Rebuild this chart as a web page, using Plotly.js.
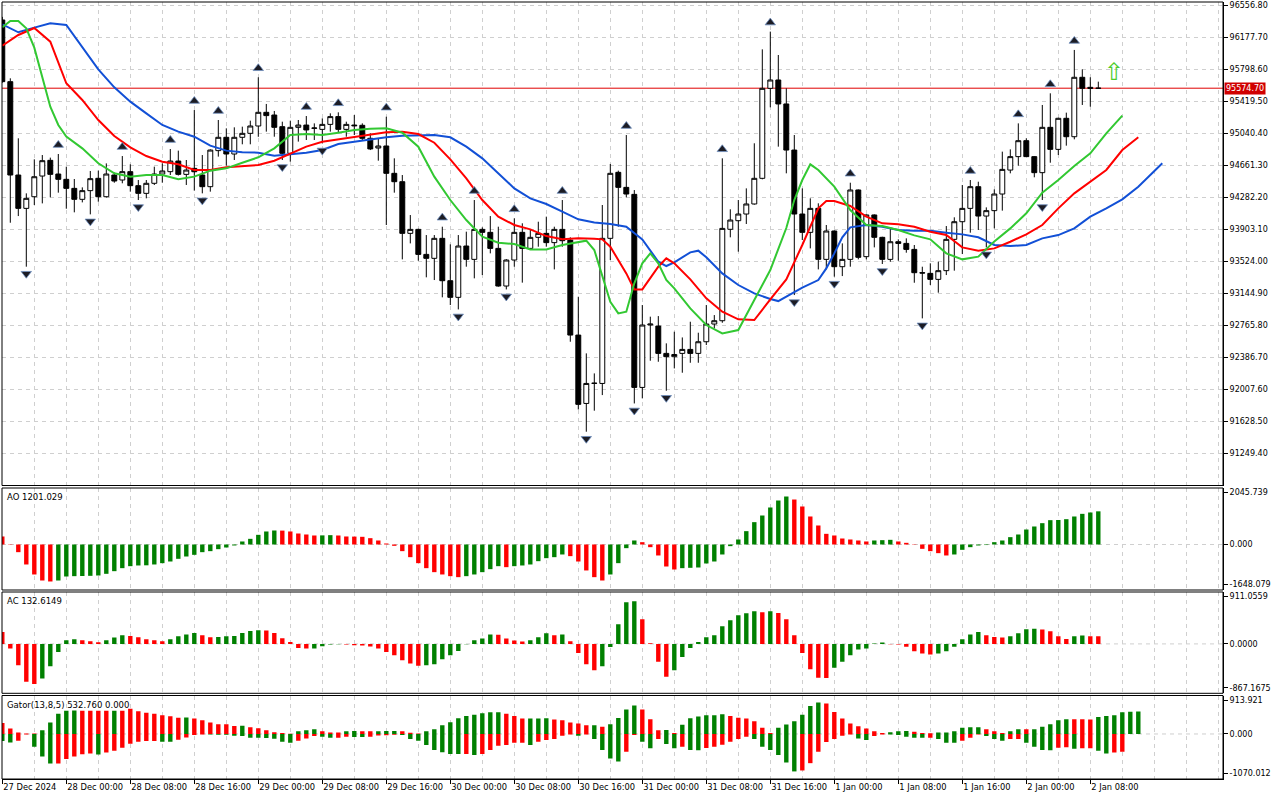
<!DOCTYPE html>
<html>
<head>
<meta charset="utf-8">
<script src="https://cdn.plot.ly/plotly-3.0.1.min.js"></script>
<style>
html,body{margin:0;padding:0;background:#ffffff;}
#chart{width:1280px;height:800px;}
</style>
</head>
<body>
<div id="chart"></div>
<script>
// ---------------- DATA ----------------
const timeLabels = ["27 Dec 2024","28 Dec 00:00","28 Dec 08:00","28 Dec 16:00","29 Dec 00:00","29 Dec 08:00","29 Dec 16:00","30 Dec 00:00","30 Dec 08:00","30 Dec 16:00","31 Dec 00:00","31 Dec 08:00","31 Dec 16:00","1 Jan 00:00","1 Jan 08:00","1 Jan 16:00","2 Jan 00:00","2 Jan 08:00"];
const barsPerLabel = 8;

const priceTicks = [96556.80,96177.70,95798.60,95419.50,95040.40,94661.30,94282.20,93903.10,93524.00,93144.90,92765.80,92386.70,92007.60,91628.50,91249.40];
const currentPrice = 95574.70;

const opens = [96383,95652,94546,94151,94289,94534,94720,94558,94495,94388,
94258,94361,94507,94289,94546,94487,94586,94420,94329,94448,
94558,94586,94712,94554,94625,94546,94408,94835,94993,94795,
94993,95040,95127,95289,95257,95119,94803,95111,95138,95099,
95087,95146,95238,95087,95138,95135,94981,94866,94890,94566,
94467,93855,93902,93606,93559,93796,93294,93097,93705,93547,
93902,93867,93677,93231,93539,93867,93677,93808,93855,93745,
93902,93775,92650,91840,92077,92077,93796,94578,94400,94317,
92030,92769,92757,92433,92394,92433,92480,92433,92571,92781,
92820,93903,94005,94084,94203,94507,95573,95672,95388,94842,
94084,93867,94151,93547,93883,93460,93547,94369,93579,94073,
93808,93547,93756,93736,93665,93389,93381,93310,93413,93784,
93993,94151,94408,94060,94124,94321,94605,94764,94953,94764,
94574,95111,94850,95218,95000,95704,95585,95573];

const highs = [96420,95692,94981,94329,94732,94783,94752,94795,94645,94499,
94400,94594,94598,94684,94574,94771,94673,94487,94487,94645,
94684,94854,94835,94724,95316,94783,94850,95198,95099,95111,
95119,95190,95704,95388,95305,95178,95190,95198,95245,95158,
95217,95277,95289,95178,95257,95158,95040,94981,95237,94744,
94546,94072,93910,93835,93835,93934,93725,93835,93875,94250,
93926,94060,93934,93550,94033,93974,93895,93993,94053,93934,
94250,93808,93104,92433,92196,94191,94677,94598,95020,94368,
93006,92868,92875,92552,92690,92622,92808,92678,93006,92887,
94744,94140,94250,94388,94922,96035,96245,95968,95573,95020,
94388,94270,94211,93954,93890,93736,94455,94375,94080,94080,
93815,93914,93784,93796,93717,93460,93500,93519,93942,94045,
94428,94487,94467,94163,94376,94823,94850,95158,94981,94770,
95376,95514,95225,95285,96028,95798,95704,95652];

const lows = [95640,93981,94060,93460,94191,94210,94282,94337,94147,94104,
94222,94080,94230,94280,94455,94448,94349,94250,94270,94428,
94455,94546,94540,94428,94361,94329,94349,94764,94657,94724,
94910,94910,94999,95060,95000,94724,94704,94942,94961,94961,
94920,95060,95048,95000,95020,94961,94842,94716,93954,94337,
93547,93736,93531,93334,93302,93097,93006,92954,93460,93322,
93361,93618,93223,93191,93460,93271,93658,93697,93697,93428,
93697,92571,91769,91505,91754,91939,93539,93934,94282,91840,
91900,92346,92334,91990,92255,92204,92322,92322,92532,92730,
92796,93808,93638,93966,94195,94495,95348,94882,94566,93124,
93776,93677,93428,93428,93342,93349,93460,93547,93547,93689,
93492,93519,93531,93626,93270,92848,93243,93152,93361,93413,
93610,93863,93895,93689,93914,94124,94566,94657,94760,94519,
94250,94692,94783,94894,94969,95376,95356,95570];

const closes = [95652,94546,94151,94270,94526,94716,94554,94495,94388,94258,
94361,94503,94289,94558,94475,94586,94420,94329,94448,94558,
94594,94712,94554,94605,94585,94408,94842,94993,94795,94993,
95040,95127,95289,95250,95111,94803,95111,95138,95080,95103,
95146,95238,95087,95146,95130,94981,94855,94890,94566,94467,
93855,93902,93606,93559,93796,93294,93097,93705,93547,93902,
93867,93677,93231,93539,93867,93677,93808,93855,93745,93902,
93768,92650,91829,92077,92080,93796,94566,94400,94321,92030,
92769,92780,92433,92394,92420,92480,92433,92571,92781,92820,
93914,94013,94084,94203,94507,95573,95672,95388,94842,94084,
93867,94151,93547,93883,93460,93547,94369,93571,94073,93808,
93547,93756,93736,93665,93389,93385,93310,93413,93784,93993,
94151,94408,94060,94124,94321,94613,94764,94953,94764,94574,
95111,94850,95218,95000,95704,95573,95573,95574.7];

// Alligator (already shifted forward as drawn): bar index -> value
const jawIdx = [0,2,4,6,8,10,12,14,16,18,20,22,24,26,28,30,32,34,36,38,40,42,44,46,48,50,52,54,56,58,60,62,64,66,68,70,72,74,76,78,80,82,83,84,86,87,88,90,92,94,96,97,98,100,102,103,104,105,106,108,110,112,114,116,118,120,122,124,126,128,130,132,134,136,138,140,142,144,145];
const jawVal = [96332,96237,96292,96344,96324,96067,95798,95585,95415,95277,
95139,95060,95000,94894,94835,94815,94811,94775,94791,94811,
94843,94914,94941,94969,94993,95012,95020,95020,94993,94882,
94744,94566,94388,94270,94203,94112,94021,93985,93966,93934,
93784,
93519,93468,93511,93630,93650,93571,93381,93243,93144,93077,93053,93104,93211,93302,93440,93618,93808,93926,
93954,93934,93895,93887,93887,93863,93843,93808,93717,93705,93717,93796,93835,93914,94053,94151,94258,94408,94598,
94685];

const teethIdx = [0,2,4,6,8,10,12,14,16,18,20,22,24,26,28,30,32,34,36,38,40,42,44,46,48,50,52,54,56,58,60,62,64,66,68,70,72,74,75,76,78,79,80,82,83,84,86,88,90,92,94,96,98,100,102,103,104,106,108,110,112,114,116,118,120,122,124,126,128,130,132,134,136,138,140,142];
const teethVal = [96079,96205,96288,96126,95633,95435,95198,95008,94874,94771,
94704,94673,94606,94606,94637,94653,94665,94716,94803,94882,
94941,94969,95000,95032,95052,95060,95032,94929,94732,94507,
94250,94053,93954,93902,93823,93784,93796,93792,93784,93697,
93381,93191,93191,93460,93559,93500,93310,93085,92927,92836,
92828,93073,93310,93717,94151,94238,94238,94179,94053,93974,
93962,93934,93875,93835,93689,93650,93677,93756,93843,93954,
94151,94329,94467,94606,94842,94993];

const lipsIdx = [0,1,2,3,4,5,6,7,8,10,12,14,16,18,20,22,24,26,28,30,32,34,36,38,40,42,44,46,48,50,52,54,56,58,60,62,64,66,68,70,72,73,74,75,76,77,78,79,80,81,82,83,84,86,88,90,92,94,96,98,99,100,101,102,104,106,108,110,112,114,116,118,120,122,124,126,128,130,132,134,136,138,140];
const lipsVal = [96296,96371,96371,96284,96055,95712,95356,95139,95001,94862,
94685,94566,94527,94546,94546,94495,94527,94598,94625,94692,
94756,94862,95020,95032,95020,95048,95080,95095,95099,95048,
94882,94527,94250,94013,93816,93744,93729,93665,93665,93717,
93756,93768,93658,93342,93045,92907,92927,93263,93500,93618,
93500,93302,93203,92966,92769,92670,92710,93065,93421,93918,
94250,94487,94673,94606,94408,94132,93954,93942,93895,93831,
93784,93618,93547,93579,93760,93914,94092,94337,94487,94653,
94803,95040,95249];

// Bill Williams fractals (bar indices)
const fractalUp = [7,15,21,24,27,32,38,42,48,55,59,64,70,78,90,96,106,121,127,131,134];
const fractalDown = [3,11,17,25,35,40,57,63,73,79,83,99,104,110,115,123,130];

// signal arrow
const signalIdx = 139;
const signalPrice = 95767;

// Awesome Oscillator
const aoVals = [290,-12,-278,-724,-1086,-1304,-1340,-1304,-1159,-1147,
-1141,-1135,-1123,-1062,-966,-857,-785,-760,-754,-724,
-676,-616,-519,-435,-374,-278,-241,-169,-109,-36,
109,205,350,471,507,503,471,398,362,326,
330,338,326,290,286,278,229,145,36,-48,
-241,-459,-676,-857,-1002,-1086,-1147,-1183,-1147,-1086,
-1002,-893,-785,-821,-785,-760,-724,-604,-495,-459,
-362,-422,-616,-941,-1183,-1304,-1086,-676,-133,145,
84,-97,-398,-797,-905,-857,-845,-833,-688,-616,
-362,-60,181,483,809,1050,1340,1593,1738,1629,
1376,1014,688,386,326,217,181,145,109,145,
157,169,109,60,-12,-157,-241,-314,-398,-362,
-193,-97,-36,-20,84,145,266,362,543,652,
772,881,887,917,1014,1110,1159,1201.029];
const aoScale = [-1648.079, 2045.739];

// Accelerator Oscillator
const acVals = [210,-82,-373,-665,-706,-607,-391,-140,64,82,
64,47,29,64,111,152,140,117,82,64,
47,82,134,163,193,152,117,123,134,140,
193,228,239,237,193,99,35,-70,-82,-80,
-41,-12,-6,-12,-23,-29,-47,-82,-140,-198,
-286,-344,-385,-373,-356,-268,-198,-123,-6,64,
93,163,160,93,58,41,64,117,187,152,
166,47,-158,-356,-461,-391,-53,344,729,747,
432,12,-315,-578,-461,-228,-70,35,117,152,
309,414,502,537,572,554,575,543,432,152,
-158,-443,-595,-597,-420,-315,-198,-99,-82,6,
23,-6,-12,-52,-128,-169,-187,-169,-128,-52,
82,163,210,152,122,111,134,187,257,268,
251,222,134,87,134,146,134,132.6149];
const acScale = [-867.1675, 911.0559];

// Gator oscillator: upper histogram (|jaw-teeth|) and lower histogram (|teeth-lips|, drawn downward)
const gatorUpper = [263,129,35,12,10,90,271,482,553,555,
553,552,551,550,553,552,600,537,506,482,
443,420,388,390,365,326,271,231,229,192,
195,161,137,90,43,20,5,67,90,114,
67,35,34,67,68,66,65,67,68,69,
67,27,12,67,114,208,278,373,428,459,
490,514,515,482,428,365,368,370,373,341,
326,271,247,208,210,169,231,382,584,679,
584,349,90,92,20,216,373,412,443,445,
467,428,388,365,302,145,20,145,224,302,
459,663,749,726,522,365,247,184,129,67,
20,43,67,68,51,20,19,35,36,67,
145,161,162,114,67,20,67,114,113,115,
169,231,326,349,348,347,346,404,428,443,
514,530,532.76];
const gatorLower = [169,200,161,12,302,537,702,702,592,537,
482,467,490,443,396,326,231,184,169,169,
184,184,137,82,27,12,14,16,20,43,
50,90,92,94,114,184,208,161,106,51,
67,90,88,67,70,72,67,35,33,20,
22,122,161,263,380,435,475,478,475,498,
475,380,278,263,208,206,263,184,145,122,
43,12,43,12,122,380,584,655,420,27,
184,341,122,239,341,302,380,385,333,302,
255,184,122,67,122,302,380,498,679,890,
867,694,420,192,122,43,12,106,145,51,
12,14,27,67,90,92,88,122,208,210,
161,90,12,51,122,161,122,120,208,302,
380,385,326,318,349,341,340,396,467,443,
420];
// g = growing bar (green), r = shrinking bar (red), as shown in the picture
const gatorUpperState = ["rrrrr","ggggg","rrrr","g","rrrrrrrr","g","rrrrrr","g","rrrrrr","ggg","rrr","gg","rr","ggg","rrr","gggggggggg","rrr","ggg","rrrrr","g","r","gggg","rrr","g","r","gggggg","rrrrrr","gggggg","rrrrrrrr","ggg","rrr","gggggg","rrr","gg","r","ggggg","rrr","gggggg"].join("");
const gatorLowerState = ["gg","rr","ggg","rrrrr","g","rrrrrrr","gg","rrrr","ggggggggggg","rrr","gg","rr","gg","rrrr","gggggggg","r","g","rrrrrr","g","rrrrr","g","r","gggg","rr","gg","r","gg","r","gg","rrrrrr","gggggg","rrrrrrr","gg","rr","ggggg","r","ggg","rrr","ggg","rr","gggg","rr","g","rr","gg","rr"].join("");
const gatorScale = [-1070.012, 913.921];

// ---------------- LAYOUT GEOMETRY (pixels) ----------------
const PX = {left:2, right:1223, top:2, bottom:779,
  mainBot:485.5, aoTop:488, aoBot:590, acTop:592, acBot:693.3, gTop:695.5};
const barPitch = 8, firstBarPx = 2.3;
const frac = y => (PX.bottom - y) / (PX.bottom - PX.top);
const pxToIdx = px => (px - firstBarPx) / barPitch;

const mainRange = [90867.9, 96595.9];
const pricePerPx = (mainRange[1]-mainRange[0]) / (PX.mainBot - PX.top);

const GREEN = '#008000', RED = '#ff0000';
const GRID = '#cfcfcf';
const FONT = 'DejaVu Sans, Verdana, sans-serif';

const idx = opens.map((_, i) => i);
const dirColors = vals => vals.map((v, i) => (i > 0 && v > vals[i-1]) ? GREEN : RED);
const stateColors = s => s.split('').map(c => c === 'g' ? GREEN : RED);

const traces = [];
traces.push({
  type:'candlestick', x: idx, open: opens, high: highs, low: lows, close: closes,
  xaxis:'x', yaxis:'y', whiskerwidth:0,
  increasing:{line:{color:'#000000', width:1}, fillcolor:'#ffffff'},
  decreasing:{line:{color:'#000000', width:1}, fillcolor:'#000000'},
  hoverinfo:'skip', showlegend:false
});
traces.push({type:'scatter', mode:'lines', x: jawIdx, y: jawVal, xaxis:'x', yaxis:'y', line:{color:'#1250d6', width:2}, hoverinfo:'skip'});
traces.push({type:'scatter', mode:'lines', x: teethIdx, y: teethVal, xaxis:'x', yaxis:'y', line:{color:'#ff0000', width:2}, hoverinfo:'skip'});
traces.push({type:'scatter', mode:'lines', x: lipsIdx, y: lipsVal, xaxis:'x', yaxis:'y', line:{color:'#32c832', width:2}, hoverinfo:'skip'});
traces.push({type:'scatter', mode:'markers', x: fractalUp, y: fractalUp.map(i => highs[i] + 9*pricePerPx),
  xaxis:'x', yaxis:'y', marker:{symbol:'triangle-up', size:9, color:'#1c1c24', line:{color:'#6f8fc0', width:0.8}}, hoverinfo:'skip'});
traces.push({type:'scatter', mode:'markers', x: fractalDown, y: fractalDown.map(i => lows[i] - 7*pricePerPx),
  xaxis:'x', yaxis:'y', marker:{symbol:'triangle-down', size:9, color:'#1c1c24', line:{color:'#6f8fc0', width:0.8}}, hoverinfo:'skip'});

traces.push({type:'bar', x: idx, y: aoVals, xaxis:'x', yaxis:'y2', width:0.55, marker:{color: dirColors(aoVals), line:{width:0}}, hoverinfo:'skip'});
traces.push({type:'bar', x: idx, y: acVals, xaxis:'x', yaxis:'y3', width:0.55, marker:{color: dirColors(acVals), line:{width:0}}, hoverinfo:'skip'});
traces.push({type:'bar', x: gatorUpper.map((_, i) => i), y: gatorUpper, xaxis:'x', yaxis:'y4', width:0.55, marker:{color: stateColors(gatorUpperState), line:{width:0}}, hoverinfo:'skip'});
traces.push({type:'bar', x: gatorLower.map((_, i) => i), y: gatorLower.map(v => -v), xaxis:'x', yaxis:'y4', width:0.55, marker:{color: stateColors(gatorLowerState), line:{width:0}}, hoverinfo:'skip'});

function subTicks(scale, topPx, botPx, decimals) {
  const per = (scale[1]-scale[0]) / (botPx - topPx);
  return {
    vals: [scale[1] - 4.5*per, 0, scale[0] + 5.5*per],
    text: [scale[1].toFixed(decimals), (0).toFixed(decimals), scale[0].toFixed(decimals)]
  };
}
const aoT = subTicks(aoScale, PX.aoTop, PX.aoBot, 3);
const acT = subTicks(acScale, PX.acTop, PX.acBot, 4);
const gT = subTicks(gatorScale, PX.gTop, PX.bottom, 3);

const yCommon = {side:'right', anchor:'x', ticks:'outside', ticklen:4, tickcolor:'#000', tickwidth:1,
  showline:true, linecolor:'#000', linewidth:1, zeroline:false, fixedrange:true,
  tickfont:{family:FONT, size:8, color:'#000'}};

const layout = {
  width:1280, height:800,
  margin:{l:PX.left, r:1280-PX.right, t:PX.top, b:800-PX.bottom},
  paper_bgcolor:'#ffffff', plot_bgcolor:'#ffffff',
  showlegend:false, hovermode:false, barmode:'overlay', boxgap:0.12,
  font:{family:FONT, size:8, color:'#000'},
  xaxis:{
    range:[pxToIdx(PX.left), pxToIdx(PX.right)], anchor:'y4',
    tickmode:'array', tickvals: timeLabels.map((_, k) => k*barsPerLabel), ticktext: timeLabels,
    ticks:'outside', ticklen:4, tickcolor:'#000', ticklabelposition:'outside right', tickangle:0,
    automargin:false, ticklabeloverflow:'allow',
    tickfont:{family:FONT, size:8.3, color:'#000'},
    showgrid:true, gridcolor:GRID, griddash:'4px,4px', gridwidth:1,
    minor:{tickmode:'linear', tick0:0, dtick:barsPerLabel/2, showgrid:true, gridcolor:GRID, griddash:'4px,4px', gridwidth:1, ticks:''},
    showline:true, linecolor:'#000', zeroline:false, fixedrange:true,
    rangeslider:{visible:false}
  },
  yaxis: Object.assign({}, yCommon, {
    domain:[frac(PX.mainBot), 1], range: mainRange,
    tickmode:'array', tickvals: priceTicks, ticktext: priceTicks.map(v => v.toFixed(2)),
    showgrid:true, gridcolor:GRID, griddash:'4px,4px'
  }),
  yaxis2: Object.assign({}, yCommon, {
    domain:[frac(PX.aoBot), frac(PX.aoTop)], range: aoScale,
    tickmode:'array', tickvals: aoT.vals, ticktext: aoT.text, showgrid:false
  }),
  yaxis3: Object.assign({}, yCommon, {
    domain:[frac(PX.acBot), frac(PX.acTop)], range: acScale,
    tickmode:'array', tickvals: acT.vals, ticktext: acT.text, showgrid:false
  }),
  yaxis4: Object.assign({}, yCommon, {
    domain:[0, frac(PX.gTop)], range: gatorScale,
    tickmode:'array', tickvals: gT.vals, ticktext: gT.text, showgrid:false
  }),
  shapes: [
    {type:'rect', xref:'paper', yref:'paper', x0:0, x1:1, y0:frac(PX.mainBot), y1:1, line:{color:'#000', width:1}, layer:'above'},
    {type:'rect', xref:'paper', yref:'paper', x0:0, x1:1, y0:frac(PX.aoBot), y1:frac(PX.aoTop), line:{color:'#000', width:1}, layer:'above'},
    {type:'rect', xref:'paper', yref:'paper', x0:0, x1:1, y0:frac(PX.acBot), y1:frac(PX.acTop), line:{color:'#000', width:1}, layer:'above'},
    {type:'rect', xref:'paper', yref:'paper', x0:0, x1:1, y0:0, y1:frac(PX.gTop), line:{color:'#000', width:1}, layer:'above'},
    {type:'line', xref:'paper', yref:'y2', x0:0, x1:1, y0:0, y1:0, line:{color:GRID, width:1, dash:'4px,4px'}, layer:'below'},
    {type:'line', xref:'paper', yref:'y3', x0:0, x1:1, y0:0, y1:0, line:{color:GRID, width:1, dash:'4px,4px'}, layer:'below'},
    {type:'line', xref:'paper', yref:'y4', x0:0, x1:1, y0:0, y1:0, line:{color:GRID, width:1, dash:'4px,4px'}, layer:'below'},
    {type:'line', xref:'paper', yref:'y', x0:0, x1:1, y0:currentPrice, y1:currentPrice, line:{color:'#e00000', width:1}, layer:'below'}
  ],
  annotations: [
    {xref:'paper', yref:'paper', x:0, y:frac(PX.aoTop), xanchor:'left', yanchor:'top', xshift:3, yshift:-2, showarrow:false,
     text:'AO ' + aoVals[aoVals.length-1].toFixed(3), font:{family:FONT, size:8.5, color:'#000'}},
    {xref:'paper', yref:'paper', x:0, y:frac(PX.acTop), xanchor:'left', yanchor:'top', xshift:3, yshift:-2, showarrow:false,
     text:'AC ' + acVals[acVals.length-1].toFixed(4), font:{family:FONT, size:8.5, color:'#000'}},
    {xref:'paper', yref:'paper', x:0, y:frac(PX.gTop), xanchor:'left', yanchor:'top', xshift:3, yshift:-2, showarrow:false,
     text:'Gator(13,8,5) ' + gatorUpper[gatorUpper.length-1].toFixed(3) + ' 0.000', font:{family:FONT, size:8.5, color:'#000'}},
    {xref:'paper', yref:'y', x:1, y:currentPrice, xanchor:'left', yanchor:'middle', xshift:1, showarrow:false,
     text: currentPrice.toFixed(2), bgcolor:'#d00000', borderpad:1, font:{family:FONT, size:8, color:'#ffffff'}},
    {xref:'x', yref:'y', x:signalIdx, y:signalPrice, xanchor:'center', yanchor:'middle', showarrow:false,
     text:'\u21E7', font:{family:'DejaVu Sans', size:24, color:'#4ccc2c'}}
  ]
};

Plotly.newPlot('chart', traces, layout, {staticPlot:true, displayModeBar:false});
</script>
</body>
</html>
